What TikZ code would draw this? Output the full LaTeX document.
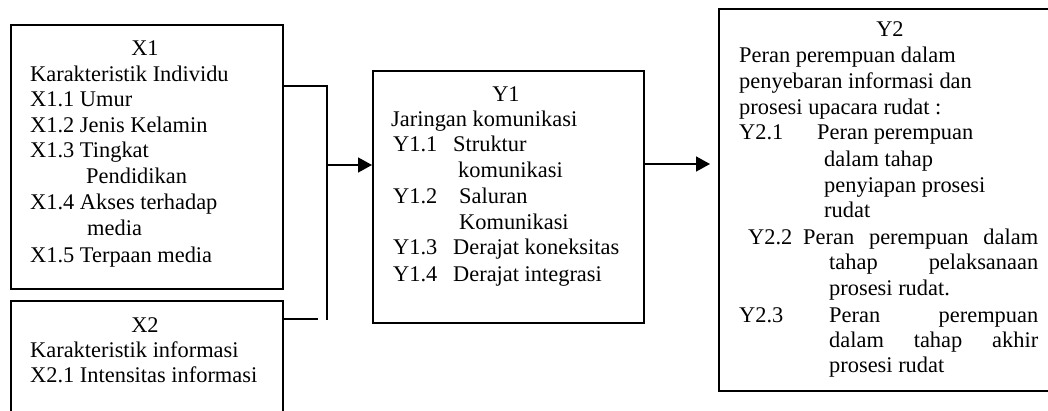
\documentclass[tikz,border=0pt]{standalone}
\usepackage{fontspec}
\setmainfont{Liberation Serif}
\usetikzlibrary{arrows.meta}
\tikzset{
  box/.style={draw=black, line width=1.6pt, rectangle, inner sep=0pt, anchor=north west},
  txt/.style={inner sep=0pt, anchor=base west, font=\fontsize{22.4}{25.8}\selectfont},
  ctxt/.style={txt, anchor=base},
  link/.style={draw=black, line width=1.6pt},
  arrowlink/.style={link, -{Triangle[length=14pt,width=15pt]}}
}
\newcommand\tline[3]{\node[txt] (#1) at #2 {#3};}
\begin{document}
\begin{tikzpicture}[x=1pt,y=-1pt]
\useasboundingbox (0,0) rectangle (1048,411);
\clip (0,0) rectangle (1048,411);
% boxes
\node[box, minimum width=272pt, minimum height=264pt] (X1) at (10,24) {};
\node[box, minimum width=272pt, minimum height=140pt] (X2) at (10,300) {};
\node[box, minimum width=271pt, minimum height=252pt] (Y1) at (372,70) {};
\node[box, minimum width=345pt, minimum height=382pt] (Y2) at (718,8) {};
% connectors
\coordinate (j1) at (327,86);
\coordinate (j2) at (327,320);
\coordinate (x2e) at (318,319);
\coordinate (m) at (327,165);
\coordinate (m2) at (643,164);
\draw[link] (X1.east |- j1) -- (j1) -- (j2);
\draw[link] (X2.east |- x2e) -- (x2e);
\draw[arrowlink] (m) -- (Y1.west |- m);
\draw[arrowlink, shorten >=8pt] (Y1.east |- m2) -- (Y2.west |- m2);
% X1 text
\node[ctxt] (tX1) at (145,56) {X1};
\tline{a1}{(30,82)}{Karakteristik Individu}
\tline{a2}{(30,107)}{X1.1 Umur}
\tline{a3}{(30,133)}{X1.2 Jenis Kelamin}
\tline{a4}{(30,158)}{X1.3 Tingkat}
\tline{a5}{(86,184)}{Pendidikan}
\tline{a6}{(30,210)}{X1.4 Akses terhadap}
\tline{a7}{(87,236)}{media}
\tline{a8}{(30,262)}{X1.5 Terpaan media}
% X2 text
\node[ctxt] (tX2) at (145,332) {X2};
\tline{b1}{(30,357)}{Karakteristik informasi}
\tline{b2}{(30,382)}{X2.1 Intensitas informasi}
% Y1 text
\node[ctxt] (tY1) at (506,102) {Y1};
\tline{c1}{(391,127)}{Jaringan komunikasi}
\tline{c2}{(393,152)}{Y1.1}
\tline{c3}{(453,152)}{Struktur}
\tline{c4}{(458,178)}{komunikasi}
\tline{c5}{(393,204)}{Y1.2}
\tline{c6}{(459,204)}{Saluran}
\tline{c7}{(459,230)}{Komunikasi}
\tline{c8}{(393,255)}{Y1.3}
\tline{c9}{(453,255)}{Derajat koneksitas}
\tline{c10}{(393,281)}{Y1.4}
\tline{c11}{(453,281)}{Derajat integrasi}
% Y2 text
\node[ctxt] (tY2) at (890,37) {Y2};
\tline{d1}{(739,63)}{Peran perempuan dalam}
\tline{d2}{(739,89)}{penyebaran informasi dan}
\tline{d3}{(739,115)}{prosesi upacara rudat :}
\tline{d4}{(739,140)}{Y2.1}
\tline{d5}{(817,140)}{Peran perempuan}
\tline{d6}{(824,167)}{dalam tahap}
\tline{d7}{(824,193)}{penyiapan prosesi}
\tline{d8}{(824,218)}{rudat}
\tline{d9}{(748,245)}{Y2.2}
\tline{d10}{(803,245)}{\makebox[235pt][s]{Peran\hfill perempuan\hfill dalam}}
\tline{d11}{(829,270)}{\makebox[209pt][s]{tahap\hfill pelaksanaan}}
\tline{d12}{(829,295)}{prosesi rudat.}
\tline{d13}{(739,322)}{Y2.3}
\tline{d14}{(829,322)}{\makebox[209pt][s]{Peran\hfill perempuan}}
\tline{d15}{(829,347)}{\makebox[209pt][s]{dalam\hfill tahap\hfill akhir}}
\tline{d16}{(829,372)}{prosesi rudat}
\end{tikzpicture}
\end{document}
